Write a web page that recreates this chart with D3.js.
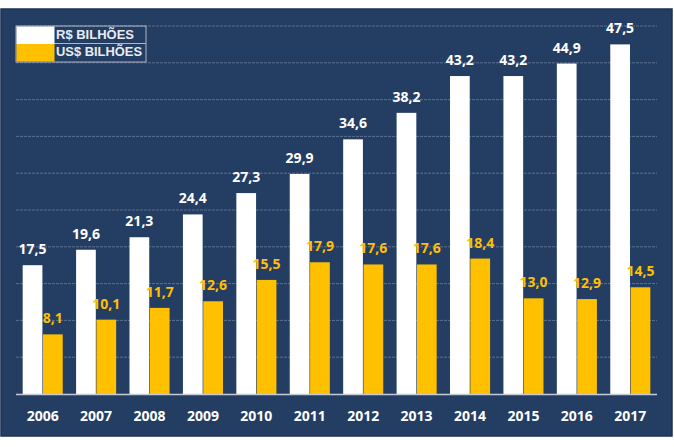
<!DOCTYPE html>
<html><head><meta charset="utf-8">
<script src="https://cdn.jsdelivr.net/npm/d3@7"></script>
<style>html,body{margin:0;padding:0;background:#fff;}svg{display:block;}</style>
</head><body>
<svg id="c" width="674" height="447"></svg>
<script>
const years = ["2006","2007","2008","2009","2010","2011","2012","2013","2014","2015","2016","2017"];
const brl = [17.5,19.6,21.3,24.4,27.3,29.9,34.6,38.2,43.2,43.2,44.9,47.5];
const usd = [8.1,10.1,11.7,12.6,15.5,17.9,17.6,17.6,18.4,13.0,12.9,14.5];
const seriesNames = ["R$ BILHÕES","US$ BILHÕES"];
const gridTicks = [5,10,15,20,25,30,35,40,45,50];

const svg = d3.select("#c");
const W = 674, H = 447;
const panel = {x:1, y:9, w:671, h:427};
const m = {left:16, right:17, top:26, bottom:53};
const navy = "#243d63", yellow = "#FFC000";

svg.append("rect").attr("x",panel.x).attr("y",panel.y).attr("width",panel.w).attr("height",panel.h)
  .attr("fill",navy).attr("stroke","#1c3050").attr("stroke-width",1.5);

const x0 = d3.scaleBand().domain(years).range([m.left, W-m.right]).paddingInner(0.25).paddingOuter(0.125);
const x1 = d3.scaleBand().domain([0,1]).range([0, x0.bandwidth()]).paddingInner(0.03);
const y = d3.scaleLinear().domain([0,50]).range([394, 26]);

const g = svg.append("g");
g.selectAll("line.grid").data(gridTicks).join("line").attr("class","grid")
  .attr("x1",m.left).attr("x2",W-m.right).attr("y1",d=>y(d)).attr("y2",d=>y(d))
  .attr("stroke","rgba(200,210,225,0.35)").attr("stroke-width",1).attr("stroke-dasharray","3,1");

const data = years.map((yr,i)=>({yr, v:[brl[i],usd[i]]}));
const colors = ["#ffffff", yellow];
const grp = g.selectAll("g.grp").data(data).join("g").attr("transform",d=>`translate(${x0(d.yr)},0)`);
grp.selectAll("rect").data(d=>d.v.map((v,k)=>({v,k}))).join("rect")
  .attr("x",d=>x1(d.k)).attr("width",x1.bandwidth())
  .attr("y",d=>y(d.v)).attr("height",d=>y(0)-y(d.v)).attr("fill",d=>colors[d.k]);
grp.selectAll("text").data(d=>d.v.map((v,k)=>({v,k}))).join("text")
  .attr("x",d=>x1(d.k)+x1.bandwidth()/2).attr("y",d=>y(d.v)-11)
  .attr("text-anchor","middle").attr("fill",d=>d.k===0?"#ffffff":yellow)
  .attr("font-family","'Open Sans', sans-serif").attr("font-weight","bold").attr("font-size","14px")
  .text(d=>d.v.toFixed(1).replace(".",","));

// baseline
g.append("line").attr("x1",m.left).attr("x2",W-m.right).attr("y1",y(0)+0.5).attr("y2",y(0)+0.5)
  .attr("stroke","#c4cad6").attr("stroke-width",1.5);

// x axis
const xAxis = d3.axisBottom(x0).tickSize(0).tickPadding(0);
const ax = svg.append("g").attr("transform",`translate(0,${y(0)})`).call(xAxis);
ax.select(".domain").remove();
ax.selectAll("text").attr("y",null).attr("dy",null).attr("transform","translate(0,27)")
  .attr("fill","#ffffff").attr("font-family","'Open Sans', sans-serif")
  .attr("font-weight","bold").attr("font-size","14px");

// legend
const lg = svg.append("g").attr("transform","translate(16,26)");
lg.append("rect").attr("x",0).attr("y",0).attr("width",130).attr("height",36)
  .attr("fill","none").attr("stroke","#aeb7c6").attr("stroke-width",1);
lg.append("line").attr("x1",38).attr("x2",130).attr("y1",17.5).attr("y2",17.5).attr("stroke","#aeb7c6");
const legW = [78, 86];
seriesNames.forEach((n,i)=>{
  lg.append("rect").attr("x",0.5).attr("y",0.5+i*17.5).attr("width",38).attr("height",17.5).attr("fill",colors[i]);
  lg.append("text").attr("x",40).attr("y",12.5+i*17.5).text(n)
    .attr("fill","#e8ecf2").attr("font-family","'Liberation Sans', Arial, sans-serif")
    .attr("font-weight","bold").attr("font-size","12px")
    .attr("textLength",legW[i]).attr("lengthAdjust","spacingAndGlyphs");
});
</script>
</body></html>
